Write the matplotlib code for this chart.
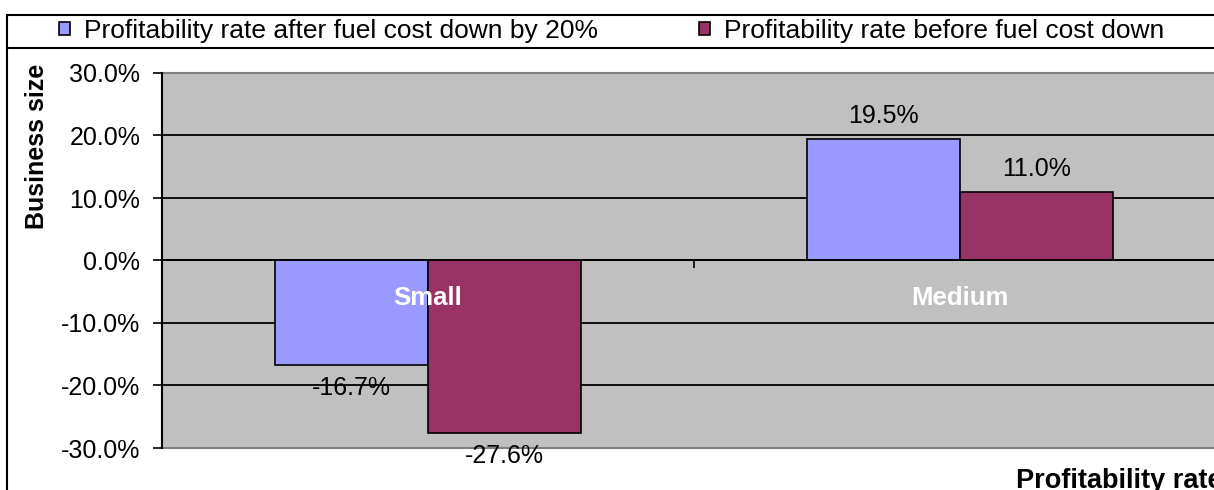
import matplotlib
matplotlib.use("Agg")
import matplotlib.pyplot as plt
from matplotlib.patches import Rectangle
from matplotlib.lines import Line2D
from matplotlib.ticker import FuncFormatter, FixedLocator

plt.rcParams['font.family'] = ['Liberation Sans', 'DejaVu Sans']

categories = ['Small', 'Medium']
after_cut = [-16.7, 19.5]
before_cut = [-27.6, 11.0]
series_names = ['Profitability rate after fuel cost down by 20%',
                'Profitability rate before fuel cost down']
colors = ['#9999FF', '#993366']

W, H = 1214, 490
fig = plt.figure(figsize=(W / 100, H / 100), dpi=100)


def fx(px):
    return px / W


def fy(py):
    return 1 - py / H


# chart area border and legend strip
fig.patches.append(Rectangle((fx(7), fy(600)), 2, fy(15) - fy(600), transform=fig.transFigure,
                             fill=False, edgecolor='black', linewidth=1.5))
fig.lines.append(Line2D([fx(7), 1.2], [fy(48), fy(48)], transform=fig.transFigure,
                        color='black', linewidth=1.5))

ax = fig.add_axes([fx(162), fy(448), fx(1226) - fx(162), fy(73) - fy(448)])
ax.set_facecolor('#C0C0C0')
ax.patch.set_edgecolor('#808080')
ax.patch.set_linewidth(1.5)

x = list(range(len(categories)))
w = 0.288
b1 = ax.bar([i - w / 2 for i in x], after_cut, w, color=colors[0], edgecolor='black',
            linewidth=1.2, label=series_names[0], zorder=2)
b2 = ax.bar([i + w / 2 for i in x], before_cut, w, color=colors[1], edgecolor='black',
            linewidth=1.2, label=series_names[1], zorder=2)

fmt = lambda v: '{:.1f}%'.format(v)
ax.bar_label(b1, labels=[fmt(v) for v in after_cut], padding=8, fontsize=18)
ax.bar_label(b2, labels=[fmt(v) for v in before_cut], padding=8, fontsize=18)

ax.set_xlim(-0.5, len(categories) - 0.5)
ax.set_ylim(-30, 30)
yt = list(range(-30, 31, 10))
ax.set_yticks(yt)
ax.yaxis.set_major_formatter(FuncFormatter(lambda v, p: '{:.1f}%'.format(v)))
ax.hlines(yt[1:-1], 0, 1, transform=ax.get_yaxis_transform(), color='black',
          linewidth=1.3, zorder=1.5)

for s in ['top', 'right']:
    ax.spines[s].set_visible(False)
ax.spines['left'].set_linewidth(1.5)
ax.spines['left'].set_zorder(4)
ax.spines['bottom'].set_position(('data', 0))
ax.spines['bottom'].set_linewidth(1.3)
ax.spines['bottom'].set_zorder(2.6)

ax.tick_params(axis='y', length=6.5, width=1.2, pad=9, labelsize=18)

# category boundaries get the tick marks, categories get the labels
ax.xaxis.set_major_locator(FixedLocator([i + 0.5 for i in x[:-1]]))
ax.xaxis.set_minor_locator(FixedLocator(x))
ax.set_xticklabels([], minor=False)
ax.set_xticklabels(categories, minor=True)
ax.tick_params(axis='x', which='major', length=6, width=1.2, direction='out')
ax.tick_params(axis='x', which='minor', length=0, pad=18.5, labelsize=18.5,
               labelcolor='white')
for t in ax.get_xticklabels(minor=True):
    t.set_fontweight('bold')
ax.xaxis.set_zorder(3)

fig.text(fx(37), fy(146), 'Business size', rotation=90, ha='center', va='center',
         fontsize=18, fontweight='bold')
fig.text(fx(1222), fy(481), 'Profitability rate', ha='right', va='center',
         fontsize=19.5, fontweight='bold')

common = dict(frameon=False, fontsize=19, handlelength=0.4, handleheight=0.4,
              handletextpad=0.55, borderpad=0, borderaxespad=0)
fig.legend(handles=[b1], loc='center left', bbox_to_anchor=(fx(59), fy(31)), **common)
fig.legend(handles=[b2], loc='center left', bbox_to_anchor=(fx(699), fy(31)), **common)

fig.savefig('out.png', dpi=100)
